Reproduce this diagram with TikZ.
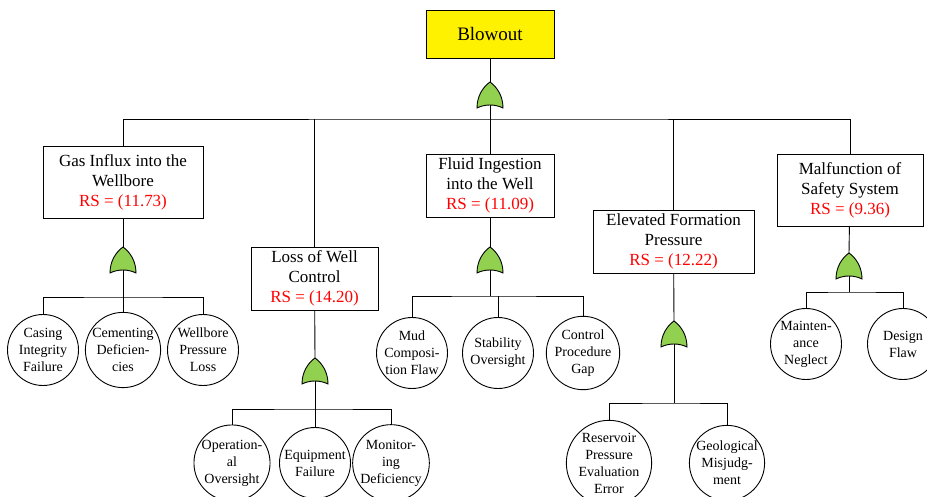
\documentclass[tikz,border=0pt]{standalone}
\usepackage{fontspec}
\setmainfont{Liberation Serif}
\usepackage{xcolor}
\definecolor{gategreen}{RGB}{146,208,80}

% or-gate, tip up; #1 name, #2 x, #3 y of the bottom corners
\newcommand{\orgate}[3]{%
    \begin{scope}[shift={(#2,#3)}]
        \draw[gatefill] (-13,0) .. controls (-13,-12) and (-7,-21) .. (0,-26)
            .. controls (7,-21) and (13,-12) .. (13,0)
            .. controls (5,-4) and (-5,-4) .. (-13,0) -- cycle;
        \coordinate (#1-in) at (0,-26);
        \coordinate (#1-out) at (0,-3);
    \end{scope}}

\begin{document}
\begin{tikzpicture}[x=1pt, y=-1pt,
    line width=0.9pt,
    gatefill/.style={draw=black, fill=gategreen, line width=0.9pt},
    topbox/.style={draw, fill=yellow, minimum width=128pt, minimum height=48pt,
        inner sep=0pt, font=\fontsize{19}{22}\selectfont},
    evbox/.style={draw, align=center, inner sep=0pt,
        font=\fontsize{17}{20}\selectfont},
    basic/.style={draw, circle, minimum size=71pt, inner sep=0pt, align=center,
        font=\fontsize{14}{17}\selectfont}]

    \useasboundingbox (0,0) rectangle (927,497);

    % top event
    \node[topbox] (blowout) at (490,34) {Blowout};

    % intermediate events
    \node[evbox, minimum width=160pt, minimum height=72pt] (gas) at (123,182)
        {Gas Influx into the\\Wellbore\\{\color{red}RS = (11.73)}};
    \node[evbox, minimum width=127pt, minimum height=63pt] (loss) at (314.5,278.5)
        {Loss of Well\\Control\\{\color{red}RS = (14.20)}};
    \node[evbox, minimum width=128pt, minimum height=63pt] (fluid) at (490,185.5)
        {Fluid Ingestion\\into the Well\\{\color{red}RS = (11.09)}};
    \node[evbox, minimum width=161pt, minimum height=63pt] (elev) at (673.5,241.5)
        {Elevated Formation\\Pressure\\{\color{red}RS = (12.22)}};
    \node[evbox, minimum width=146pt, minimum height=72pt] (safety) at (850,190)
        {Malfunction of\\Safety System\\{\color{red}RS = (9.36)}};

    % basic events
    \node[basic] (casing) at (43,350) {Casing\\Integrity\\Failure};
    \node[basic] (cement) at (123,350) {Cementing\\Deficien-\\cies};
    \node[basic] (wbloss) at (203,350) {Wellbore\\Pressure\\Loss};

    \node[basic] (oper) at (232,463) {Operation-\\al\\Oversight};
    \node[basic] (equip) at (315,463) {Equipment\\Failure};
    \node[basic] (monit) at (391,463) {Monitor-\\ing\\Deficiency};

    \node[basic] (mud) at (412,353) {Mud\\Composi-\\tion Flaw};
    \node[basic] (stab) at (498,353) {Stability\\Oversight};
    \node[basic] (ctrl) at (583,353) {Control\\Procedure\\Gap};

    \node[basic] (reserv) at (609,463) {Reservoir\\Pressure\\Evaluation\\Error};
    \node[basic] (geo) at (727,463) {Geological\\Misjudg-\\ment};

    \node[basic] (maint) at (806,344) {Mainten-\\ance\\Neglect};
    \node[basic] (design) at (903,344) {Design\\Flaw};

    % gates
    \orgate{g0}{490}{108}
    \orgate{g1}{123}{273}
    \orgate{g2}{315}{384}
    \orgate{g3}{490}{273}
    \orgate{g4}{674}{347}
    \orgate{g5}{849}{279}

    % bus points
    \coordinate (bus0) at (490,119);
    \coordinate (bus1) at (123,297);
    \coordinate (bus2) at (315,409);
    \coordinate (bus3) at (490,296);
    \coordinate (bus4) at (674,403);
    \coordinate (bus5) at (849,292);

    % connectors
    \draw (blowout) -- (g0-in);
    \draw (g0-out) -- (bus0);
    \draw (gas.north) |- (bus0) -| (safety.north);
    \draw (loss.north) -- (loss.north |- bus0);
    \draw (elev.north) -- (elev.north |- bus0);
    \draw (fluid.north) -- (fluid.north |- bus0);

    \draw (gas) -- (g1-in);
    \draw (g1-out) -- (bus1);
    \draw (casing.north) |- (bus1) -| (wbloss.north);
    \draw (cement.north) -- (cement.north |- bus1);

    \draw (loss) -- (g2-in);
    \draw (g2-out) -- (bus2);
    \draw (oper.north) |- (bus2) -| (monit.north);
    \draw (equip.north) -- (equip.north |- bus2);

    \draw (fluid) -- (g3-in);
    \draw (g3-out) -- (bus3);
    \draw (mud.north) |- (bus3) -| (ctrl.north);
    \draw (stab.north) -- (stab.north |- bus3);

    \draw (elev) -- (g4-in);
    \draw (g4-out) -- (bus4);
    \draw (reserv.north) |- (bus4) -| (geo.north);

    \draw (safety) -- (g5-in);
    \draw (g5-out) -- (bus5);
    \draw (maint.north) |- (bus5) -| (design.north);

\end{tikzpicture}
\end{document}
